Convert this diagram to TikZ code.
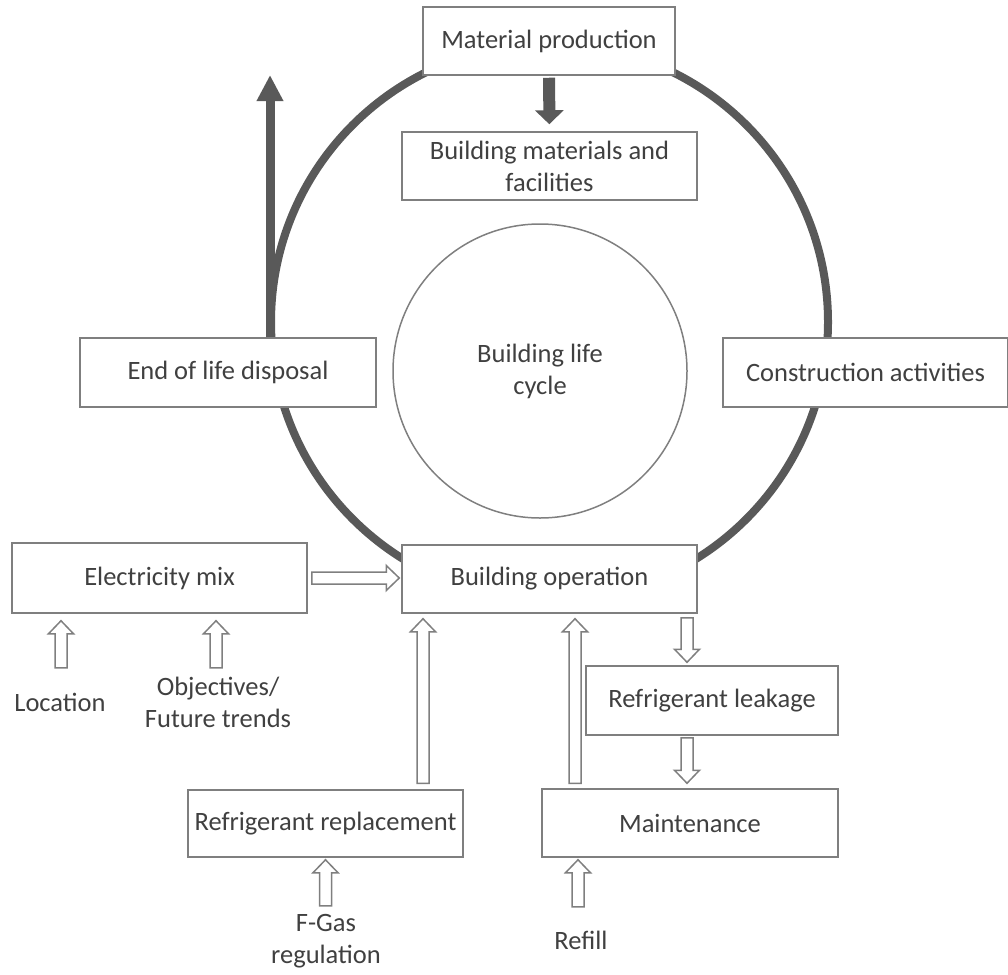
\documentclass[tikz,border=0pt]{standalone}
\usepackage{fontspec}
\setmainfont{Carlito}
\usetikzlibrary{arrows.meta,calc}

\definecolor{ringgray}{HTML}{595959}
\definecolor{boxgray}{HTML}{7F7F7F}
\definecolor{textgray}{HTML}{404040}

\newcommand{\lcafont}{\fontsize{26.5}{32}\selectfont}
% hollow block arrow from #1 to #2
\newcommand{\blockarrow}[2]{%
  \path (#1) coordinate (ba-s) (#2) coordinate (ba-t);
  \path ($(ba-t)!13pt!(ba-s)$) coordinate (ba-h);
  \draw[hollow] ($(ba-s)!6pt!90:(ba-t)$) -- ($(ba-h)!6pt!-90:(ba-s)$)
    -- ($(ba-h)!12.5pt!-90:(ba-s)$) -- (ba-t) -- ($(ba-h)!12.5pt!90:(ba-s)$)
    -- ($(ba-h)!6pt!90:(ba-s)$) -- ($(ba-s)!6pt!-90:(ba-t)$) -- cycle;}

\begin{document}
\begin{tikzpicture}[x=1pt, y=-1pt,
  box/.style={draw=boxgray, line width=1.5pt, fill=white, text=textgray,
    font=\lcafont, align=center, inner sep=0pt},
  plaintext/.style={text=textgray, font=\lcafont, align=center, inner sep=0pt},
  hollow/.style={draw=boxgray, line width=1.5pt, fill=white, line join=miter},
  darkarrow/.style={draw=ringgray, line width=12pt, -{Triangle[length=14pt, width=28pt]}},
  reusearrow/.style={draw=ringgray, line width=9pt, -{Triangle[length=26pt, width=25pt]}}]
  \useasboundingbox (0,0) rectangle (1008,974);

  % life cycle ring
  \node[circle, draw=ringgray, line width=8pt, minimum size=557pt,
    inner sep=0pt, outer sep=0pt] (lifering) at (549.5,322) {};
  \node[circle, draw=boxgray, line width=1.5pt, minimum size=294pt,
    plaintext] (core) at (540,371) {Building life\\cycle};

  % stages on the ring
  \node[box, minimum width=252pt, minimum height=68pt] (matprod) at (549,41) {Material production};
  \node[box, minimum width=295pt, minimum height=68pt] (bldmat) at (549.5,166) {Building materials and\\facilities};
  \node[box, minimum width=296pt, minimum height=69pt] (eol) at (228,372.5) {End of life disposal};
  \node[box, minimum width=285pt, minimum height=69pt] (constr) at (865.5,372.5) {Construction activities};
  \node[box, minimum width=295pt, minimum height=68pt] (bop) at (549.5,579) {Building operation};

  % operation details
  \node[box, minimum width=295pt, minimum height=70pt] (elec) at (159.5,578) {Electricity mix};
  \node[box, minimum width=252pt, minimum height=69pt] (leak) at (712,700.5) {Refrigerant leakage};
  \node[box, minimum width=296pt, minimum height=68pt] (maint) at (690,823) {Maintenance};
  \node[box, minimum width=275pt, minimum height=67pt] (repl) at (325.5,823.5) {Refrigerant replacement};

  \node[plaintext] (loc) at (60,702) {Location};
  \node[plaintext] (obj) at (218,702) {Objectives/\\Future trends};
  \node[plaintext] (fgas) at (326,941) {F-Gas\\regulation};
  \node[plaintext] (refill) at (581,940) {Refill};

  % dark arrows
  \coordinate (reuse) at (270,75);
  \draw[darkarrow, shorten <=2pt, shorten >=7pt] (matprod) -- (bldmat);
  \draw[reusearrow] (eol.north -| reuse) -- (reuse);

  % hollow arrows
  \blockarrow{$(elec.east)+(4,0)$}{$(bop.west)+(-2,-1)$}
  \blockarrow{$(bop.south -| leak.north)+(-25,4)$}{$(leak.north)+(-25,-3)$}
  \blockarrow{$(leak.south)+(-25,2)$}{$(maint.north -| leak.south)+(-25,-5)$}
  \blockarrow{$(maint.north)+(-115,-5)$}{$(bop.south)+(25.5,5)$}
  \blockarrow{$(repl.north)+(97.5,-6)$}{$(bop.south)+(-126.5,5)$}
  \blockarrow{$(elec.south -| loc)+(1,54)$}{$(elec.south -| loc)+(1,7)$}
  \blockarrow{$(elec.south -| obj)+(-2,54)$}{$(elec.south -| obj)+(-2,7)$}
  \blockarrow{$(repl.south)+(0,48)$}{$(repl.south)+(0,2)$}
  \blockarrow{$(maint.south)+(-112,49)$}{$(maint.south)+(-112,2)$}
\end{tikzpicture}
\end{document}
